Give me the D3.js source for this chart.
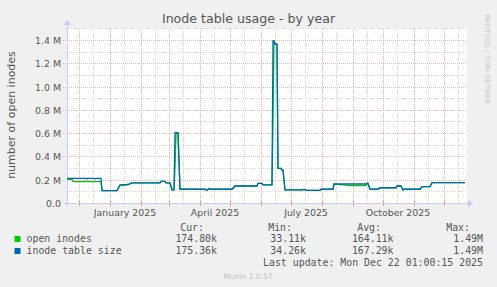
<!DOCTYPE html>
<html><head><meta charset="utf-8">
<script src="https://cdn.jsdelivr.net/npm/d3@7"></script>
<style>html,body{margin:0;padding:0;background:#f0f0f0}svg{display:block}</style>
</head><body><svg id="c" width="497" height="287"></svg>
<script>
// ---------------- data ----------------
const dates = ["2024-11-19","2024-11-24","2024-11-25","2024-12-08","2024-12-09","2024-12-10","2024-12-16","2024-12-17","2024-12-18","2024-12-23","2024-12-24",
"2025-01-08","2025-01-11","2025-01-19","2025-01-20","2025-01-23","2025-02-20","2025-02-21","2025-02-25","2025-02-26","2025-03-02","2025-03-04",
"2025-03-06","2025-03-07","2025-03-08","2025-03-10","2025-03-12","2025-04-06","2025-04-08","2025-04-10","2025-04-13","2025-05-03","2025-05-06",
"2025-05-28","2025-05-29","2025-06-02","2025-06-03","2025-06-11","2025-06-12","2025-06-13","2025-06-14","2025-06-15","2025-06-17","2025-06-18",
"2025-06-21","2025-06-22","2025-06-23","2025-06-25","2025-07-13","2025-07-14","2025-07-16","2025-07-30","2025-07-31","2025-08-12","2025-08-13",
"2025-08-30","2025-09-14","2025-09-15","2025-09-16","2025-09-18","2025-09-26","2025-09-28","2025-10-14","2025-10-15","2025-10-19","2025-10-21",
"2025-10-22","2025-11-07","2025-11-09","2025-11-17","2025-11-19","2025-12-22"];
// values in thousands
const inodeTableSize = [212,212,212,212,206,212,212,206,212,212,106,
106,155,160,160,172,172,185,185,172,172,112,
112,604,604,604,118,118,110,124,118,118,146,
146,169,169,155,155,155,1394,1394,1365,1365,298,
298,283,283,112,112,118,108,108,118,118,163,
163,163,170,170,118,118,131,131,146,146,112,
118,118,140,140,175,175.36];
const openInodes = [204,204,183,183,183,183,183,183,183,183,106,
106,150,155,163,172,172,185,185,172,172,112,
112,300,595,600,118,118,110,124,118,118,146,
146,169,169,155,155,155,700,1390,1365,1365,298,
298,283,283,112,112,118,108,108,118,118,163,
149,149,165,165,118,118,131,131,146,146,112,
118,118,140,140,174.8,174.8];

const yTickValues = [0,200000,400000,600000,800000,1000000,1200000,1400000];
const yTickLabels = ["0.0","0.2 M","0.4 M","0.6 M","0.8 M","1.0 M","1.2 M","1.4 M"];
const yMinorValues = [100000,300000,500000,700000,900000,1100000,1300000,1500000];
const xLabelDates = ["2025-01-01","2025-04-01","2025-07-01","2025-10-01"];
const xLabelTexts = ["January 2025","April 2025","July 2025","October 2025"];

const seriesNames = ["open inodes","inode table size"];
const seriesColors = ["#00cc00","#0066b3"];
const statHeaders = ["Cur:","Min:","Avg:","Max:"];
const statOpen = ["174.80k","33.11k","164.11k","1.49M"];
const statTable = ["175.36k","34.26k","167.29k","1.49M"];

// ---------------- chart ----------------
const parse = d3.utcParse("%Y-%m-%d");
const svg = d3.select("#c");
const L = 67, R = 467, T = 28, B = 203;
const x = d3.scaleUtc().domain([parse("2024-11-19"), parse("2025-12-24")]).range([L, R]);
const y = d3.scaleLinear().domain([0, 1503000]).range([B, T]);

svg.append("rect").attr("width",497).attr("height",287).attr("fill","#f0f0f0");
svg.append("rect").attr("x",L).attr("y",T).attr("width",R-L).attr("height",B-T).attr("fill","#ffffff");

const sans = "'DejaVu Sans', sans-serif", mono = "'DejaVu Sans Mono', monospace";
const gridG = svg.append("g");
const minorCol = "#dadada", majorCol = "#f0b4b4";

// horizontal minor
yMinorValues.forEach(v=>{
  const yy = Math.round(y(v))+0.5;
  gridG.append("line").attr("x1",L-2).attr("x2",R).attr("y1",yy).attr("y2",yy)
    .attr("stroke",minorCol).attr("stroke-dasharray","1,1");
});
// vertical minor (mid-month)
const months = d3.utcMonth.range(parse("2024-12-01"), parse("2025-12-24"));
const minorDates = d3.utcMonth.range(parse("2024-11-01"), parse("2025-12-24")).map(d=>d3.utcDay.offset(d,14)).filter(d=>x(d)>L && x(d)<R);
minorDates.forEach(d=>{
  const xx = Math.round(x(d))+0.5;
  gridG.append("line").attr("x1",xx).attr("x2",xx).attr("y1",T).attr("y2",B+2)
    .attr("stroke",minorCol).attr("stroke-dasharray","1,1");
});
// horizontal major
yTickValues.slice(1).forEach(v=>{
  const yy = Math.round(y(v))+0.5;
  gridG.append("line").attr("x1",L-4).attr("x2",R).attr("y1",yy).attr("y2",yy)
    .attr("stroke",majorCol).attr("stroke-dasharray","1,1");
});
// vertical major (monthly)
months.forEach(d=>{
  const xx = Math.round(x(d))+0.5;
  gridG.append("line").attr("x1",xx).attr("x2",xx).attr("y1",T).attr("y2",B+3)
    .attr("stroke",majorCol).attr("stroke-dasharray","1,1");
  gridG.append("line").attr("x1",xx).attr("x2",xx).attr("y1",B-2).attr("y2",B+3)
    .attr("stroke","#e89090");
});

// y tick labels
svg.append("g").selectAll("text").data(yTickValues).join("text")
  .attr("x",61).attr("y",d=>Math.round(y(d))+3.5).attr("text-anchor","end")
  .attr("font-family",sans).attr("font-size",9.4).attr("fill","#555")
  .text((d,i)=>yTickLabels[i]);
// x labels (centered mid-month)
svg.append("g").selectAll("text").data(xLabelDates).join("text")
  .attr("x",d=>x(d3.utcDay.offset(parse(d),15))).attr("y",216).attr("text-anchor","middle")
  .attr("font-family",sans).attr("font-size",9.4).attr("fill","#555")
  .text((d,i)=>xLabelTexts[i]);

// axes
const axisCol = "#c8cdf5";
svg.append("line").attr("x1",L-3).attr("x2",R+1).attr("y1",B+0.5).attr("y2",B+0.5).attr("stroke",axisCol);
svg.append("path").attr("d",`M${R+1},${B-3.5}L${R+6},${B+0.5}L${R+1},${B+4.5}Z`).attr("fill",axisCol);
svg.append("line").attr("x1",L+0.5).attr("x2",L+0.5).attr("y1",B+3).attr("y2",T-3).attr("stroke",axisCol);
svg.append("path").attr("d",`M${L-3.5},${T-3}L${L+0.5},${T-8}L${L+4.5},${T-3}Z`).attr("fill",axisCol);

// series lines
const line = d3.line().x(d=>x(d[0])).y(d=>y(d[1]*1000));
const pd = dates.map(parse);
const seriesData = [openInodes, inodeTableSize];
seriesData.forEach((vals,i)=>{
  svg.append("path").datum(pd.map((d,j)=>[d,vals[j]]))
    .attr("d",line).attr("fill","none").attr("stroke",seriesColors[i]).attr("stroke-width",1.3)
    .attr("stroke-linejoin","miter");
});

// title
svg.append("text").attr("x",248.5).attr("y",22.5).attr("text-anchor","middle")
  .attr("font-family",sans).attr("font-size",12.6).attr("fill","#555").text("Inode table usage - by year");
// y label
svg.append("text").attr("transform","translate(14.5,115) rotate(-90)").attr("text-anchor","middle")
  .attr("font-family",sans).attr("font-size",11).attr("fill","#555").text("number of open inodes");
// watermark
svg.append("text").attr("transform","translate(484.5,14) rotate(90)").attr("text-anchor","start")
  .attr("font-family",sans).attr("font-size",7).attr("fill","#c8c8c8").text("RRDTOOL / TOBI OETIKER");

// legend
const lg = svg.append("g").attr("font-family",mono).attr("font-size",9.9).attr("fill","#555");
const headerRight = [204,292,381,470];
const valueRight = [217,306,393.5,483];
statHeaders.forEach((h,i)=>lg.append("text").attr("x",headerRight[i]).attr("y",230.5).attr("text-anchor","end").text(h));
const rowsY = [242,254];
[statOpen, statTable].forEach((st,r)=>{
  lg.append("rect").attr("x",14.5).attr("y",rowsY[r]-6).attr("width",6).attr("height",6).attr("fill",seriesColors[r]);
  lg.append("text").attr("x",26.5).attr("y",rowsY[r]).text(seriesNames[r]);
  st.forEach((s,i)=>lg.append("text").attr("x",valueRight[i]).attr("y",rowsY[r]).attr("text-anchor","end").text(s));
});
lg.append("text").attr("x",483).attr("y",266).attr("text-anchor","end").text("Last update: Mon Dec 22 01:00:15 2025");
svg.append("text").attr("x",248).attr("y",279).attr("text-anchor","middle").attr("font-family",sans)
  .attr("font-size",7.5).attr("fill","#c0c0c0").text("Munin 2.0.57");
</script></body></html>
